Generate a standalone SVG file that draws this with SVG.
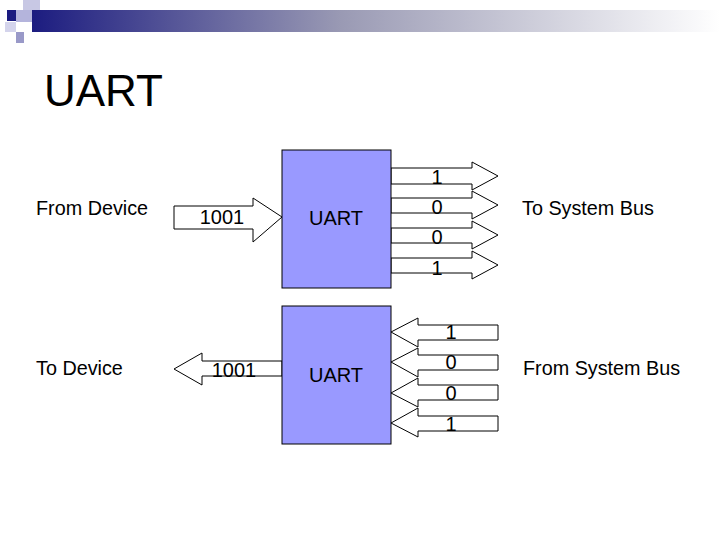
<svg xmlns="http://www.w3.org/2000/svg" width="720" height="540" viewBox="0 0 720 540">
<defs>
<linearGradient id="g" x1="0" x2="1" y1="0" y2="0"><stop offset="0" stop-color="#1c1c80"/><stop offset="0.45" stop-color="#9a9ab4"/><stop offset="1" stop-color="#ffffff"/></linearGradient>
<style>
text{font-family:"Liberation Sans",Arial,sans-serif;fill:#000}
.box{fill:#9999ff;stroke:#000;stroke-width:1}
.ar{fill:#fff;stroke:#000;stroke-width:1}
.lb{font-size:19.8px}
.bit{font-size:20px;text-anchor:middle}
</style>
</defs>
<rect width="720" height="540" fill="#fff"/>
<g id="header">
<rect x="32" y="10" width="688" height="22" fill="url(#g)"/>
<rect x="23" y="0" width="17" height="10" fill="#c8c8e4"/>
<rect x="16" y="10" width="16" height="12" fill="#b4b4dc"/>
<rect x="7" y="10" width="9" height="11" fill="#1a1a80"/>
<rect x="5" y="22" width="11" height="10" fill="#d4d4ec"/>
<rect x="16" y="32" width="8" height="11" fill="#9999c8"/>
</g>
<text x="44" y="106" font-size="44">UART</text>
<text class="lb" x="36" y="215">From Device</text>
<text class="lb" x="522" y="215">To System Bus</text>
<text class="lb" x="36" y="375">To Device</text>
<text class="lb" x="523" y="375">From System Bus</text>
<g id="connectors">
<polygon class="ar" points="174,206 253,206 253,198 282,217 253,242 253,229 174,229"/>
<polygon class="ar" points="391,168 472,168 472,162 498,176 472,190 472,184 391,184"/>
<polygon class="ar" points="391,198 472,198 472,191 498,205 472,219 472,213 391,213"/>
<polygon class="ar" points="391,228 472,228 472,221 498,235 472,249 472,243 391,243"/>
<polygon class="ar" points="391,258 472,258 472,251 498,265 472,279 472,273 391,273"/>
<polygon class="ar" points="282,361 202,361 202,353 174,369 202,385 202,376 282,376"/>
<polygon class="ar" points="498,325 418,325 418,318 391,332 418,347 418,340 498,340"/>
<polygon class="ar" points="498,355 418,355 418,348 391,362 418,377 418,370 498,370"/>
<polygon class="ar" points="498,385 418,385 418,378 391,393 418,407 418,400 498,400"/>
<polygon class="ar" points="498,416 418,416 418,408 391,423 418,437 418,431 498,431"/>
<text class="bit" x="222" y="224">1001</text>
<text class="bit" x="234" y="377">1001</text>
<text class="bit" x="437" y="184">1</text>
<text class="bit" x="437" y="214">0</text>
<text class="bit" x="437" y="244">0</text>
<text class="bit" x="437" y="275">1</text>
<text class="bit" x="451" y="339">1</text>
<text class="bit" x="451" y="369">0</text>
<text class="bit" x="451" y="400">0</text>
<text class="bit" x="451" y="431">1</text>
</g>
<g id="uart1"><rect class="box" x="282" y="150" width="109" height="138"/><text x="336" y="225" font-size="20" text-anchor="middle">UART</text></g>
<g id="uart2"><rect class="box" x="282" y="306" width="109" height="138"/><text x="336" y="382" font-size="20" text-anchor="middle">UART</text></g>
</svg>
